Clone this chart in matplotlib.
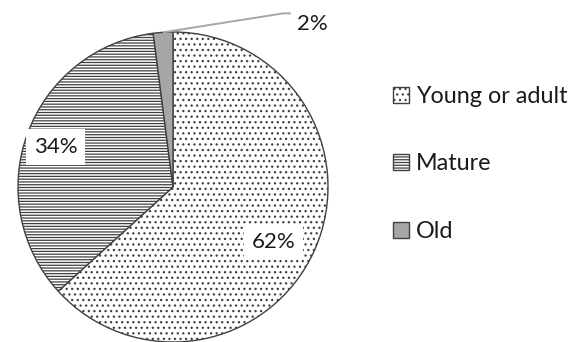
import matplotlib
matplotlib.use("Agg")
import matplotlib.pyplot as plt
import numpy as np

plt.rcParams['font.family'] = ['Lato', 'DejaVu Sans']
plt.rcParams['hatch.linewidth'] = 0.9

# Share of trees by age class
categories = ["Young or adult", "Mature", "Old"]
shares = [62, 34, 2]

W, H = 572, 342
fig = plt.figure(figsize=(W / 100, H / 100), dpi=100)

# pie axes: centre (173, 187) px from the top, radius 155 px
R = 155
cx, cy = 173, H - 187
ax = fig.add_axes([(cx - R) / W, (cy - R) / H, 2 * R / W, 2 * R / H])

face = ["white", "white", "#a6a6a6"]
hatches = ["...", "------", None]
hatch_col = ["#bcbcbc", "#9a9a9a", "#404040"]

wedges, _ = ax.pie(shares, startangle=90, counterclock=False, radius=1,
                   wedgeprops=dict(linewidth=1.0, edgecolor="#404040"))
ax.set_xlim(-1, 1)
ax.set_ylim(-1, 1)
ax.set_aspect('equal')
ax.axis('off')
for w, fc, h, hc in zip(wedges, face, hatches, hatch_col):
    w.set_facecolor(fc)
    if h:
        w.set_hatch(h)
    w._hatch_color = matplotlib.colors.to_rgba(hc)
    w.set_edgecolor("#404040")

fs = 16
txt_col = "#1a1a1a"
# percentage labels inside the two large wedges
inside = [(0, 0.74, -5.0), (1, 0.80, 1.5)]
for i, dist, dang in inside:
    w = wedges[i]
    ang = np.deg2rad((w.theta1 + w.theta2) / 2 + dang)
    ax.text(dist * np.cos(ang), dist * np.sin(ang), f"{shares[i]}%",
            ha='center', va='center', fontsize=fs, color=txt_col,
            bbox=dict(boxstyle='square,pad=0.35', fc='white', ec='none'))

# small wedge: label outside with a leader line
w = wedges[2]
ang = np.deg2rad((w.theta1 + w.theta2) / 2)
p0 = (np.cos(ang), np.sin(ang))
ax.plot([p0[0], 0.71, 0.76], [p0[1], 1.12, 1.12], color="#a6a6a6",
        lw=1.4, clip_on=False, solid_capstyle='butt')
ax.text(0.80, 1.05, f"{shares[2]}%", ha='left', va='center',
        fontsize=fs, color=txt_col)

leg = fig.legend(wedges, categories, loc='center left',
                 bbox_to_anchor=(393 / W, 1 - 164 / H), frameon=False,
                 fontsize=16.8, handlelength=0.68, handleheight=0.68,
                 handletextpad=0.3, labelspacing=2.0, borderaxespad=0,
                 borderpad=0)
for t in leg.get_texts():
    t.set_color(txt_col)

fig.savefig("out.png", dpi=100, facecolor="white")
